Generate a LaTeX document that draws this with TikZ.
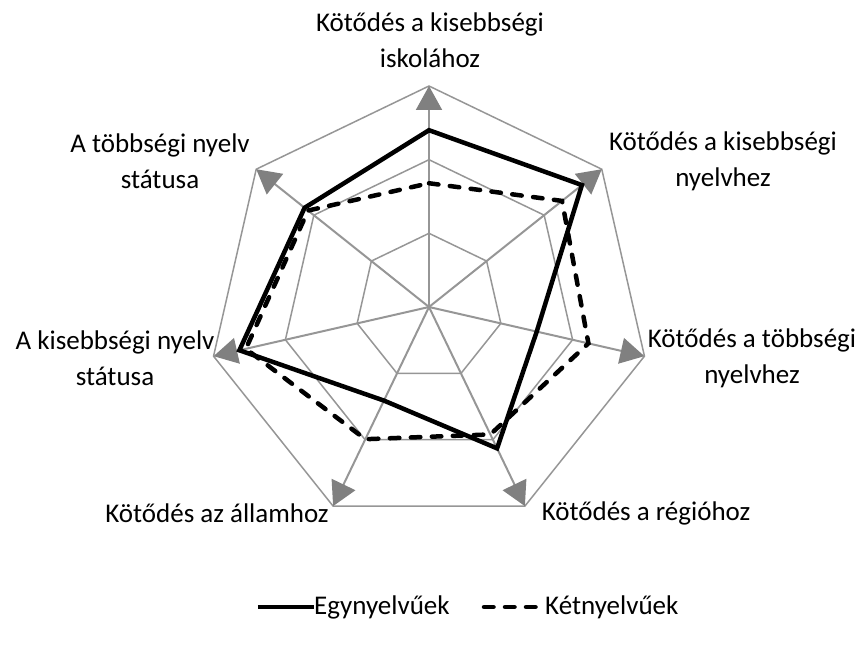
\documentclass[tikz,border=0pt]{standalone}
\usepackage{fontspec}
\setmainfont{Carlito}
\usetikzlibrary{arrows.meta, positioning}
\definecolor{gridgray}{RGB}{150,150,150}
\definecolor{arrowgray}{RGB}{128,128,128}

\begin{document}
\begin{tikzpicture}[
                line join=miter,
                gridline/.style={draw=gridgray, line width=1.5pt},
                axisline/.style={draw=gridgray, line width=2pt, -{Triangle[length=24pt, width=26pt, color=arrowgray]}},
                monoline/.style={draw=black, line width=4.5pt},
                biline/.style={draw=black, line width=4.5pt, line cap=round, dash pattern=on 9.5pt off 11.5pt},
                axislabel/.style={font=\fontsize{27}{36}\selectfont, align=center, inner sep=0pt},
                legendlabel/.style={font=\fontsize{27}{36}\selectfont, anchor=west, inner sep=0pt}
            ]
                \useasboundingbox (-429pt,-344pt) rectangle (432pt,307pt);
                \coordinate (c) at (0pt,0pt);

                % Grid
                \foreach \r in {73.7pt, 147.3pt, 221pt} {
                    \draw[gridline] (90:\r) \foreach \k in {1,...,6} { -- ({90-\k*360/7}:\r) } -- cycle;
                }

                % Axes
                \foreach \k in {0,...,6} {
                    \coordinate (tip\k) at ({90-\k*360/7}:221pt);
                    \draw[axisline] (c) -- (tip\k);
                }

                % Series points
                \foreach \v [count=\k from 0] in {0.80, 0.885, 0.50, 0.71, 0.47, 0.88, 0.72} {
                    \coordinate (m\k) at ({90-\k*360/7}:{\v*221pt});
                }
                \foreach \v [count=\k from 0] in {0.56, 0.77, 0.74, 0.64, 0.664, 0.85, 0.70} {
                    \coordinate (b\k) at ({90-\k*360/7}:{\v*221pt});
                }

                % Series
                \draw[biline] (b0) \foreach \k in {1,...,6} { -- (b\k) } -- cycle;
                \draw[monoline] (m0) \foreach \k in {1,...,6} { -- (m\k) } -- cycle;

                % Axis labels
                \node[axislabel] (l0) at (1pt,267pt) {Kötődés a kisebbségi\\iskolához};
                \node[axislabel] (l1) at (294pt,146pt) {Kötődés a kisebbségi\\nyelvhez};
                \node[axislabel] (l2) at (323pt,-51pt) {Kötődés a többségi\\nyelvhez};
                \node[axislabel] (l3) at (217pt,-206pt) {Kötődés a régióhoz};
                \node[axislabel] (l4) at (-212pt,-206pt) {Kötődés az államhoz};
                \node[axislabel] (l5) at (-314pt,-51pt) {A kisebbségi nyelv\\státusa};
                \node[axislabel] (l6) at (-269pt,146pt) {A többségi nyelv\\státusa};

                % Legend
                \coordinate (legm) at (-171pt,-300pt);
                \node[legendlabel] (egy) at (-115pt,-300pt) {Egynyelvűek};
                \draw[monoline] (legm) -- (egy.west);
                \coordinate (legb) at (55pt,-300pt);
                \node[legendlabel] (ket) at (116pt,-300pt) {Kétnyelvűek};
                \draw[biline] (legb) -- ([xshift=-8pt]ket.west);
            \end{tikzpicture}
\end{document}
